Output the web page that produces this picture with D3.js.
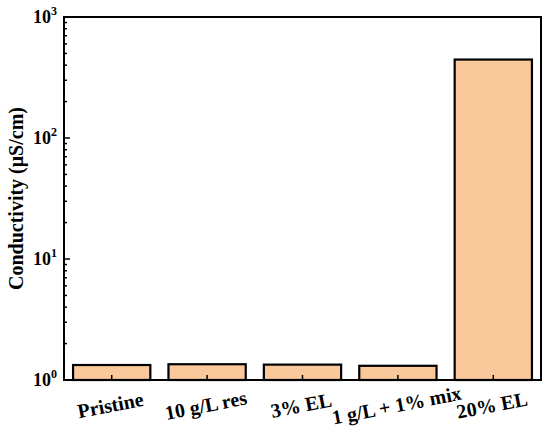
<!DOCTYPE html>
<html><head><meta charset="utf-8">
<script src="https://cdn.jsdelivr.net/npm/d3@7"></script>
<style>body{margin:0;background:#fff}</style>
</head><body>
<svg id="c" width="550" height="436"></svg>
<script>
const categories = ["Pristine", "10 g/L res", "3% EL", "1 g/L + 1% mix", "20% EL"];
const values = [1.33, 1.35, 1.34, 1.31, 445];
const yTickExps = [0, 1, 2, 3];

const svg = d3.select("#c");
const m = {l: 64, t: 17, r: 541, b: 380};
const font = "'Liberation Serif','Times New Roman',serif";

const x = d3.scaleBand().domain(categories).range([m.l, m.r]).paddingInner(0.19).paddingOuter(0.095);
const y = d3.scaleLog().domain([1, 1000]).range([m.b, m.t]);

// bars
svg.append("g").selectAll("rect").data(values).join("rect")
  .attr("x", (d,i) => x(categories[i]))
  .attr("width", x.bandwidth())
  .attr("y", d => y(d))
  .attr("height", d => y(1) - y(d))
  .attr("fill", "#FAC89A")
  .attr("stroke", "#000").attr("stroke-width", 2.2);

// minor y ticks
const minor = [];
for (let e = 0; e < 3; e++) for (let k = 2; k <= 9; k++) minor.push(k * Math.pow(10, e));
svg.append("g").selectAll("line").data(minor).join("line")
  .attr("x1", m.l).attr("x2", m.l + 3)
  .attr("y1", d => y(d)).attr("y2", d => y(d))
  .attr("stroke", "#000").attr("stroke-width", 1.5);
// major y ticks
svg.append("g").selectAll("line").data(yTickExps).join("line")
  .attr("x1", m.l).attr("x2", m.l + 6)
  .attr("y1", d => y(Math.pow(10, d))).attr("y2", d => y(Math.pow(10, d)))
  .attr("stroke", "#000").attr("stroke-width", 1.5);
// x ticks
svg.append("g").selectAll("line").data(categories).join("line")
  .attr("x1", d => x(d) + x.bandwidth()/2).attr("x2", d => x(d) + x.bandwidth()/2)
  .attr("y1", m.b).attr("y2", m.b - 5)
  .attr("stroke", "#000").attr("stroke-width", 1.5);

// frame
svg.append("rect").attr("x", m.l).attr("y", m.t).attr("width", m.r - m.l).attr("height", m.b - m.t)
  .attr("fill", "none").attr("stroke", "#000").attr("stroke-width", 2);

// y tick labels
const yl = svg.append("g").selectAll("text").data(yTickExps).join("text")
  .attr("x", 57).attr("y", d => y(Math.pow(10, d)) + 6)
  .attr("text-anchor", "end")
  .attr("font-family", font).attr("font-weight", "bold").attr("font-size", 18);
yl.append("tspan").text("10");
yl.append("tspan").text(d => d).attr("dy", -8).attr("font-size", 12);

// x tick labels
svg.append("g").selectAll("text").data(categories).join("text")
  .attr("transform", d => `translate(${x(d) + x.bandwidth()/2},${412}) rotate(-11)`)
  .attr("text-anchor", "middle")
  .attr("font-family", font).attr("font-weight", "bold").attr("font-size", 20)
  .text(d => d);

// y label
svg.append("text")
  .attr("transform", `translate(23,${(m.t + m.b)/2}) rotate(-90)`)
  .attr("text-anchor", "middle")
  .attr("font-family", font).attr("font-weight", "bold").attr("font-size", 20)
  .text("Conductivity (μS/cm)");
</script>
</body></html>
